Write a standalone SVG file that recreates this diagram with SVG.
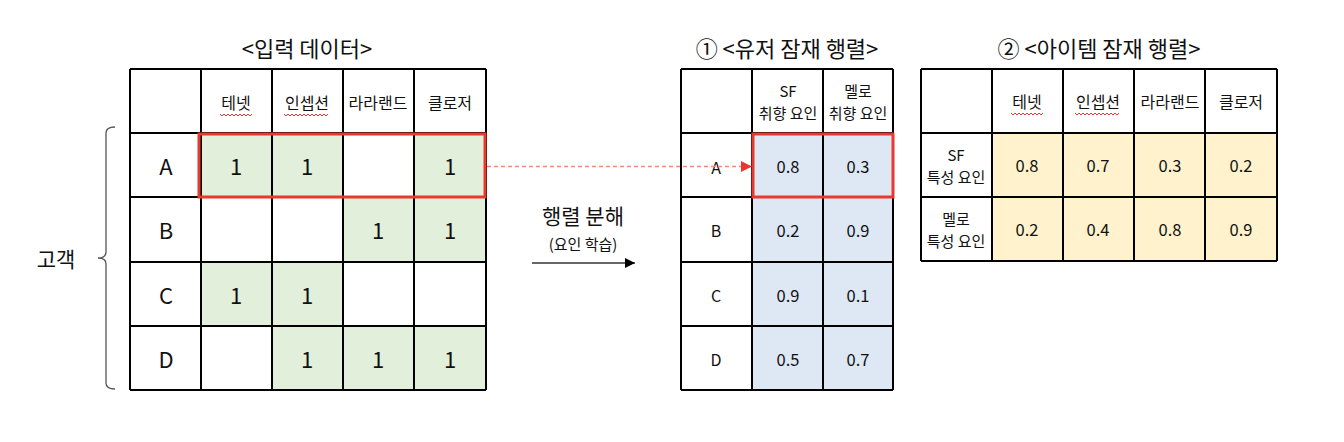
<svg xmlns="http://www.w3.org/2000/svg" width="1344" height="442" viewBox="0 0 1344 442">
<style>
text{font-family:"Noto Sans CJK KR","Noto Sans",sans-serif;fill:#111;text-anchor:middle;dominant-baseline:central}
.t{font-size:22px}
.h{font-size:16px}
.h2{font-size:15px}
.v{font-size:16.5px}
.big{font-size:22px}
.g{fill:#e2efda}
.b{fill:#dde8f4}
.y{fill:#fff2cc}
.grid{stroke:#000;stroke-width:2;fill:none}
.sel{stroke:#e8392e;stroke-width:3;fill:none}
.sq{stroke:#e8392e;stroke-width:1;fill:none}
</style>
<defs>
<marker id="ah" viewBox="0 0 10 10" refX="10" refY="5" markerWidth="10" markerHeight="10" markerUnits="userSpaceOnUse" orient="auto"><path d="M0,0 L10,5 L0,10 Z" fill="#000"/></marker>
<marker id="ahr" viewBox="0 0 10 10" refX="10" refY="5" markerWidth="11" markerHeight="11" markerUnits="userSpaceOnUse" orient="auto"><path d="M0,0 L10,5 L0,10 Z" fill="#e8392e"/></marker>
</defs>
<rect width="1344" height="442" fill="#fff"/>

<g id="input-matrix">
<text class="t" x="307" y="47">&lt;입력 데이터&gt;</text>
<rect class="g" x="201" y="133" width="142" height="64"/>
<rect class="g" x="414" y="133" width="72" height="64"/>
<rect class="g" x="343" y="197" width="143" height="65"/>
<rect class="g" x="201" y="262" width="142" height="64"/>
<rect class="g" x="272" y="326" width="214" height="64"/>
<path class="grid" d="M130,69 H486 M130,133 H486 M130,197 H486 M130,262 H486 M130,326 H486 M130,390 H486 M130,69 V390 M201,69 V390 M272,69 V390 M343,69 V390 M414,69 V390 M486,69 V390"/>
<text class="h" x="236" y="102">테넷</text>
<text class="h" x="307" y="102">인셉션</text>
<text class="h" x="378" y="102">라라랜드</text>
<text class="h" x="450" y="102">클로저</text>
<path class="sq" d="M220,114 l2,2 l2,-2 l2,2 l2,-2 l2,2 l2,-2 l2,2 l2,-2 l2,2 l2,-2 l2,2 l2,-2 l2,2 l2,-2 l2,2 l2,-2"/>
<path class="sq" d="M284,114 l2,2 l2,-2 l2,2 l2,-2 l2,2 l2,-2 l2,2 l2,-2 l2,2 l2,-2 l2,2 l2,-2 l2,2 l2,-2 l2,2 l2,-2 l2,2 l2,-2 l2,2 l2,-2 l2,2 l2,-2"/>
<text class="big" x="166" y="165">A</text>
<text class="big" x="166" y="229">B</text>
<text class="big" x="166" y="294">C</text>
<text class="big" x="166" y="358">D</text>
<text class="big" x="236" y="165">1</text>
<text class="big" x="307" y="165">1</text>
<text class="big" x="450" y="165">1</text>
<text class="big" x="378" y="229">1</text>
<text class="big" x="450" y="229">1</text>
<text class="big" x="236" y="294">1</text>
<text class="big" x="307" y="294">1</text>
<text class="big" x="307" y="358">1</text>
<text class="big" x="378" y="358">1</text>
<text class="big" x="450" y="358">1</text>
<rect class="sel" x="199" y="134" width="286" height="63"/>
</g>

<g id="customer-brace">
<path d="M115,127 Q106,127 106,133 V252 Q106,258 98,258 Q106,258 106,264 V383 Q106,389 115,389" fill="none" stroke="#555" stroke-width="1.3"/>
<text class="t" x="56" y="258" style="font-size:21px">고객</text>
</g>

<g id="decomposition-label">
<text class="t" x="583" y="215" style="font-size:21px">행렬 분해</text>
<text style="font-size:15px" x="583" y="243">(요인 학습)</text>
</g>

<g id="user-matrix">
<text class="t" x="787" y="47">① &lt;유저 잠재 행렬&gt;</text>
<rect class="b" x="752" y="133" width="141" height="257"/>
<path class="grid" d="M681,69 H893 M681,133 H893 M681,197 H893 M681,262 H893 M681,326 H893 M681,390 H893 M681,69 V390 M752,69 V390 M823,69 V390 M893,69 V390"/>
<text class="h2" x="788" y="90">SF</text>
<text class="h2" x="788" y="112">취향 요인</text>
<text class="h2" x="858" y="90">멜로</text>
<text class="h2" x="858" y="112">취향 요인</text>
<text class="h" x="716" y="167">A</text>
<text class="h" x="716" y="230">B</text>
<text class="h" x="716" y="295">C</text>
<text class="h" x="716" y="359">D</text>
<text class="v" x="788" y="166">0.8</text>
<text class="v" x="858" y="166">0.3</text>
<text class="v" x="788" y="230">0.2</text>
<text class="v" x="858" y="230">0.9</text>
<text class="v" x="788" y="295">0.9</text>
<text class="v" x="858" y="295">0.1</text>
<text class="v" x="788" y="359">0.5</text>
<text class="v" x="858" y="359">0.7</text>
<rect class="sel" x="753" y="134" width="140" height="63"/>
</g>

<g id="item-matrix">
<text class="t" x="1099" y="47">② &lt;아이템 잠재 행렬&gt;</text>
<rect class="y" x="992" y="133" width="285" height="128"/>
<path class="grid" d="M921,69 H1277 M921,133 H1277 M921,197 H1277 M921,261 H1277 M921,69 V261 M992,69 V261 M1063,69 V261 M1134,69 V261 M1205,69 V261 M1277,69 V261"/>
<text class="h" x="1027" y="101">테넷</text>
<text class="h" x="1098" y="101">인셉션</text>
<text class="h" x="1170" y="101">라라랜드</text>
<text class="h" x="1241" y="101">클로저</text>
<path class="sq" d="M1011,113 l2,2 l2,-2 l2,2 l2,-2 l2,2 l2,-2 l2,2 l2,-2 l2,2 l2,-2 l2,2 l2,-2 l2,2 l2,-2 l2,2 l2,-2"/>
<path class="sq" d="M1075,113 l2,2 l2,-2 l2,2 l2,-2 l2,2 l2,-2 l2,2 l2,-2 l2,2 l2,-2 l2,2 l2,-2 l2,2 l2,-2 l2,2 l2,-2 l2,2 l2,-2 l2,2 l2,-2 l2,2 l2,-2"/>
<text class="h2" x="956" y="154.5">SF</text>
<text class="h2" x="956" y="176.5">특성 요인</text>
<text class="h2" x="956" y="218.5">멜로</text>
<text class="h2" x="956" y="240.5">특성 요인</text>
<text class="v" x="1027" y="165">0.8</text>
<text class="v" x="1098" y="165">0.7</text>
<text class="v" x="1170" y="165">0.3</text>
<text class="v" x="1241" y="165">0.2</text>
<text class="v" x="1027" y="229">0.2</text>
<text class="v" x="1098" y="229">0.4</text>
<text class="v" x="1170" y="229">0.8</text>
<text class="v" x="1241" y="229">0.9</text>
</g>

<g id="connectors">
<line x1="487" y1="166.5" x2="752" y2="166.5" stroke="#f4887c" stroke-width="1.5" stroke-dasharray="4,3" marker-end="url(#ahr)"/>
<line x1="532" y1="263" x2="635" y2="263" stroke="#333" stroke-width="1.3" marker-end="url(#ah)"/>
</g>
</svg>
